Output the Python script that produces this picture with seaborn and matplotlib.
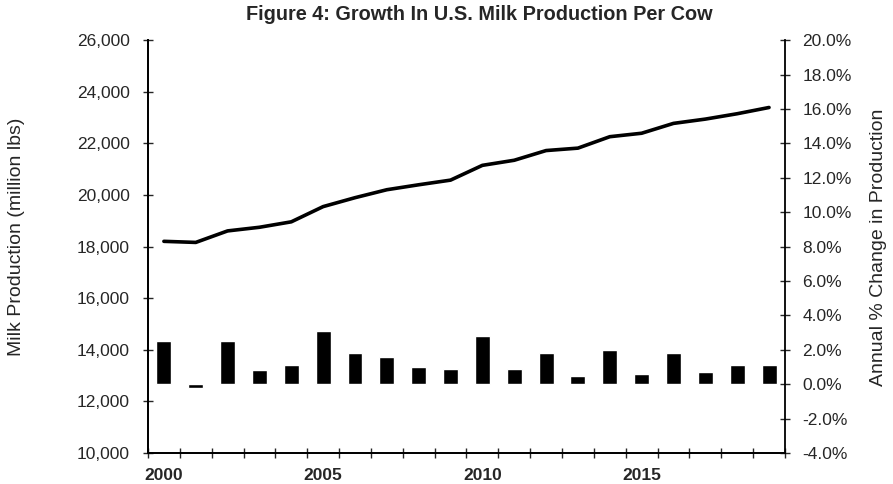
import numpy as np
import pandas as pd
import seaborn as sns
import matplotlib.pyplot as plt
from matplotlib.ticker import FuncFormatter, FixedLocator

years = list(range(2000, 2020))
milk_per_cow = [18204, 18162, 18608, 18749, 18960, 19550, 19895, 20204, 20396, 20576,
                21149, 21346, 21722, 21816, 22259, 22393, 22775, 22941, 23149, 23391]
pct_change = [2.5, -0.2, 2.5, 0.8, 1.1, 3.1, 1.8, 1.6, 1.0, 0.9,
              2.8, 0.9, 1.8, 0.5, 2.0, 0.6, 1.8, 0.7, 1.1, 1.1]
year_labels = ["2000", "2005", "2010", "2015"]

sns.set_style("ticks")
plt.rcParams["font.family"] = ["Liberation Sans", "DejaVu Sans"]

df = pd.DataFrame({"year": years, "milk": milk_per_cow, "pct": pct_change})
df["pos"] = np.arange(len(df))

fig = plt.figure(figsize=(8.93, 4.84), dpi=100)
ax = fig.add_axes([0.1657, 0.064, 0.879 - 0.1657, 0.917 - 0.064])
ax2 = ax.twinx()

sns.barplot(data=df, x="pos", y="pct", ax=ax2, color="black", width=0.47,
            saturation=1, errorbar=None)
sns.lineplot(data=df, x="pos", y="milk", ax=ax, color="black", linewidth=2.6)

ax.set_xlim(-0.5, len(df) - 0.5)
ax.set_ylim(10000, 26000)
ax.set_yticks(np.arange(10000, 26001, 2000))
ax.yaxis.set_major_formatter(FuncFormatter(lambda v, p: f"{v:,.0f}"))
ax2.set_ylim(-4, 20)
ax2.set_yticks(np.arange(-4, 20.1, 2))
ax2.yaxis.set_major_formatter(FuncFormatter(lambda v, p: f"{v:.1f}%"))

# ticks at category boundaries, labels every five years at centers
ax.xaxis.set_major_locator(FixedLocator(np.arange(-0.5, len(df), 1.0)))
ax.xaxis.set_major_formatter(FuncFormatter(lambda v, p: ""))
ax.xaxis.set_minor_locator(FixedLocator([0, 5, 10, 15]))
ax.set_xticklabels(year_labels, minor=True, fontweight="bold", fontsize=12.5)
ax.tick_params(axis="x", which="major", direction="inout", length=7, width=1)
ax.tick_params(axis="x", which="minor", length=0, pad=11)
ax2.tick_params(axis="x", which="both", length=0, labelbottom=False)

ax.tick_params(axis="y", direction="inout", length=7, width=1, labelsize=12.5, pad=9.5)
ax2.tick_params(axis="y", direction="inout", length=7, width=1, labelsize=12.5, pad=9)

for a in (ax, ax2):
    a.spines["top"].set_visible(False)
    for s in ("left", "right", "bottom"):
        a.spines[s].set_linewidth(1.3)
        a.spines[s].set_color("black")
ax.spines["right"].set_visible(False)

ax.set_xlabel("")
ax2.set_xlabel("")
ax.set_ylabel("")
ax2.set_ylabel("")
fig.text(0.018, 0.51, "Milk Production (million lbs)", rotation=90,
         ha="center", va="center", fontsize=14)
fig.text(0.984, 0.49, "Annual % Change in Production", rotation=90,
         ha="center", va="center", fontsize=14)

fig.text(0.537, 0.99, "Figure 4: Growth In U.S. Milk Production Per Cow",
         ha="center", va="top", fontsize=14.3, fontweight="bold")

fig.savefig("out.png", dpi=100)
